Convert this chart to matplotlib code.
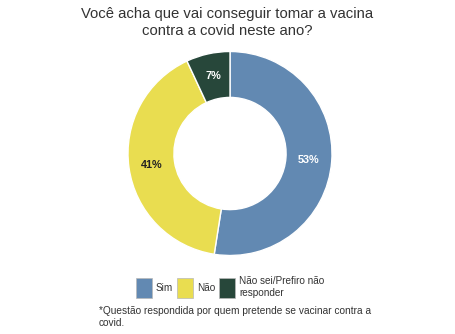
import matplotlib
matplotlib.use("Agg")
from matplotlib import pyplot as plt
from matplotlib.patches import Patch
import numpy as np

plt.rcParams['font.family'] = ['Liberation Sans', 'DejaVu Sans']

categorias = ["Sim", "Não", "Não sei/Prefiro não\nresponder"]
valores = [53, 41, 7]
rotulos = ["53%", "41%", "7%"]
cores = ["#6289B2", "#E9DD50", "#27473A"]
cores_texto = ["white", "#222222", "white"]

titulo = "Você acha que vai conseguir tomar a vacina\ncontra a covid neste ano?"
nota = "*Questão respondida por quem pretende se vacinar contra a\ncovid."

W, H = 455, 334
fig = plt.figure(figsize=(W / 100, H / 100), dpi=100)

# donut centred at (230, 153) px, radius ~102 px
cx, cy, r = 230, 153.5, 102
ax = fig.add_axes([(cx - r) / W, (H - cy - r) / H, 2 * r / W, 2 * r / H])
wedges, _ = ax.pie(valores, colors=cores, startangle=90, counterclock=False,
                   radius=1, wedgeprops=dict(width=0.45, edgecolor="white", linewidth=1))
ax.set_xlim(-1, 1)
ax.set_ylim(-1, 1)
ax.set_aspect("equal")
ax.axis("off")

total = sum(valores)
ang = 90
for v, lab, tc in zip(valores, rotulos, cores_texto):
    meio = ang - 360 * v / total / 2
    ang -= 360 * v / total
    rr = 0.775
    ax.text(rr * np.cos(np.radians(meio)), rr * np.sin(np.radians(meio)), lab,
            ha="center", va="center", fontsize=7.8, fontweight="bold", color=tc)

fig.text(0.5, 1 - 7 / H, titulo, ha="center", va="top", fontsize=10.7,
         color="#333333", linespacing=1.3)

handles = [Patch(facecolor=c, edgecolor="#b8b8b8", linewidth=0.5) for c in cores]
fig.legend(handles, categorias, loc="center", bbox_to_anchor=(230 / W, 1 - 287 / H),
           ncol=3, frameon=False, fontsize=7.2, handlelength=1.6, handleheight=2.6,
           handletextpad=0.4, columnspacing=0.4, labelcolor="#333333",
           borderpad=0, borderaxespad=0)

fig.text(99 / W, 1 - 306 / H, nota, ha="left", va="top", fontsize=7.3,
         color="#333333", linespacing=1.25)

fig.savefig("out.png", dpi=100)
